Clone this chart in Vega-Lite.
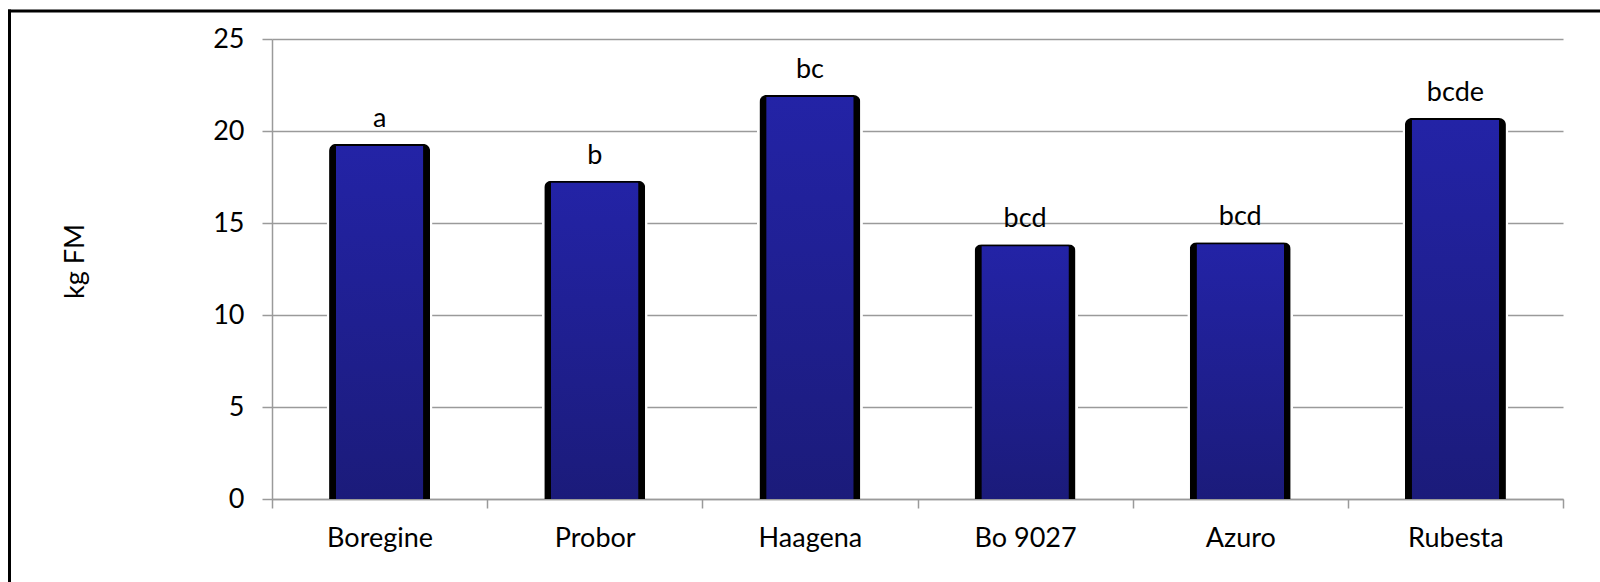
{
  "$schema": "https://vega.github.io/schema/vega-lite/v6.json",
  "width": 1291,
  "height": 460,
  "autosize": {"type": "none"},
  "padding": {"left": 272, "top": 39, "right": 37, "bottom": 83},
  "background": "white",
  "config": {
    "view": {"stroke": null},
    "font": "Lato",
    "axis": {"labelFont": "Lato", "titleFont": "Lato", "labelFontSize": 27, "titleFontSize": 27, "labelColor": "black", "titleColor": "black", "titleFontWeight": "normal"}
  },
  "data": {
    "values": [
      {"variety": "Boregine", "yield": 19.3, "group": "a"},
      {"variety": "Probor", "yield": 17.3, "group": "b"},
      {"variety": "Haagena", "yield": 21.95, "group": "bc"},
      {"variety": "Bo 9027", "yield": 13.85, "group": "bcd"},
      {"variety": "Azuro", "yield": 13.95, "group": "bcd"},
      {"variety": "Rubesta", "yield": 20.7, "group": "bcde"}
    ]
  },
  "resolve": {"scale": {"x": "independent", "y": "independent"}, "axis": {"x": "independent", "y": "independent"}},
  "layer": [
    {
      "encoding": {
        "x": {
          "field": "variety", "type": "nominal", "sort": null,
          "scale": {"paddingInner": 0, "paddingOuter": 0},
          "axis": {
            "title": null, "labelAngle": 0, "tickBand": "extent", "orient": "bottom",
            "domainColor": "#9a9a9a", "domainWidth": 1.5,
            "tickColor": "#9a9a9a", "tickWidth": 1.5, "tickSize": 9,
            "labelPadding": 17, "grid": false
          }
        },
        "y": {
          "field": "yield", "type": "quantitative",
          "scale": {"domain": [0, 25], "nice": false},
          "axis": {
            "title": "kg FM", "values": [0, 5, 10, 15, 20, 25], "orient": "left",
            "grid": true, "gridColor": "#9a9a9a", "gridWidth": 1.5,
            "domainColor": "#9a9a9a", "domainWidth": 1.5,
            "tickColor": "#9a9a9a", "tickWidth": 1.5, "tickSize": 10,
            "labelPadding": 18,
            "titleX": -189, "titleY": 222, "titleAngle": -90, "titleAlign": "center", "titleBaseline": "alphabetic"
          }
        }
      },
      "layer": [
        {
          "mark": {"type": "bar", "color": "white", "width": {"band": 0.4926}, "yOffset": -2, "cornerRadiusTopLeft": 8, "cornerRadiusTopRight": 8}
        },
        {
          "mark": {"type": "bar", "color": "black", "width": {"band": 0.4694}, "y2Offset": 3.5, "cornerRadiusTopLeft": 7, "cornerRadiusTopRight": 7}
        },
        {
          "mark": {
            "type": "bar", "width": {"band": 0.407}, "yOffset": 2, "cornerRadiusTopRight": 3, "cornerRadiusTopLeft": 2,
            "color": {"gradient": "linear", "x1": 0, "y1": 0, "x2": 0, "y2": 1,
              "stops": [{"offset": 0, "color": "#2323A6"}, {"offset": 1, "color": "#1B1B7A"}]}
          }
        },
        {
          "mark": {"type": "text", "baseline": "alphabetic", "dy": -17, "fontSize": 27, "font": "Lato", "color": "black"},
          "encoding": {"text": {"field": "group"}}
        }
      ]
    },
    {
      "mark": {"type": "point", "opacity": 0},
      "encoding": {
        "x": {
          "field": "yield", "type": "quantitative",
          "scale": {"domain": [0, 1], "range": [-263, 1400], "nice": false, "zero": false},
          "axis": {"orient": "top", "offset": 28.5, "title": null, "labels": false, "ticks": false, "grid": false, "domainColor": "black", "domainWidth": 3, "domainCap": "square"}
        },
        "y": {
          "field": "yield", "type": "quantitative",
          "scale": {"domain": [0, 1], "range": [600, -28.5], "nice": false, "zero": false},
          "axis": {"orient": "left", "offset": 263, "title": null, "labels": false, "ticks": false, "grid": false, "domainColor": "black", "domainWidth": 3, "domainCap": "square"}
        }
      }
    }
  ]
}
